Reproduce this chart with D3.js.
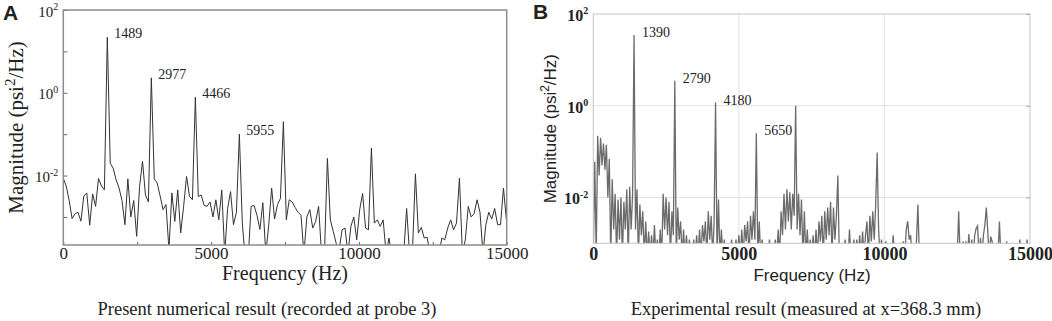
<!DOCTYPE html>
<html><head><meta charset="utf-8">
<script src="https://cdn.jsdelivr.net/npm/d3@7"></script>
<style>body{margin:0;background:#fff}svg{display:block}</style>
</head><body>
<svg id="c" width="1052" height="321"></svg>
<script>
// ---------- DATA ----------
const FREQ_STEP_A = 99.27; // Hz between samples, panel A
const magnitudeA = [
0.0085,0.0056,0.0025,0.00091,0.0012,0.0013,0.00079,0.0032,0.0038,0.00063,
0.0036,0.0018,0.0085,0.0056,0.0045,21.9,0.020,0.015,0.0079,0.0050,
0.0025,0.00065,0.0083,0.0010,0.0025,0.00034,0.0055,0.022,0.0034,0.0023,
2.29,0.0083,0.0066,0.0032,0.0015,0.0020,0.00016,0.0038,0.00078,0.0045,
0.00041,0.0018,0.0095,0.0032,0.0026,0.78,0.0031,0.0034,0.0019,0.0018,
0.0023,0.0010,0.0026,0.00085,0.0045,0.00013,0.0016,0.0041,0.00065,0.0013,
0.10,0.00071,0.0001,0.0001,0.0018,0.0019,0.0011,0.0005,0.0022,0.00013,
0.00063,0.0050,0.00089,0.0020,0.0028,0.20,0.00085,0.0026,0.0023,0.0017,
0.0013,0.0011,0.00013,0.0010,0.0015,0.00054,0.00078,0.0018,0.00013,0.00013,
0.026,0.00085,0.00045,0.00023,0.00016,0.00049,0.00054,0.00013,0.00059,0.0010,
0.00028,0.0015,0.0037,0.00054,0.00049,0.046,0.00071,0.00085,0.00059,0.00085,
0.00013,0.00031,0.0001,0.0001,0.0001,0.0001,0.00013,0.0016,0.00013,0.00016,
0.011,0.00041,0.00056,0.00031,0.00032,0.00013,0.00018,0.00013,0.00013,0.00031,
0.00028,0.00054,0.00085,0.00049,0.00071,0.0087,0.00013,0.00028,0.0018,0.0010,
0.0012,0.0026,0.0013,0.00013,0.00065,0.0013,0.00089,0.0016,0.00065,0.00065,
0.0050,0.00085
];
const peakIndexA = [15, 30, 45, 60];
const peakLabelA = ["1489", "2977", "4466", "5955"];

const FREQ_STEP_B = 50; // Hz between samples, panel B
const magnitudeB = [
5e-4,0.06,5e-4,0.22,0.03,0.2,0.05,0.15,0.04,0.14,
0.01,0.07,5e-4,0.025,0.002,0.012,5e-4,0.009,0.0012,0.01,
5e-4,0.008,0.002,0.015,5e-4,0.017,0.002,0.012,35,0.002,
0.015,5e-4,0.007,0.0015,0.005,5e-4,0.003,5e-4,0.0018,5e-4,
0.0015,5e-4,0.0025,5e-4,0.0012,5e-4,0.002,5e-4,0.012,0.002,
0.01,0.0015,0.008,5e-4,0.005,0.0015,3.5,5e-4,0.006,0.0012,
0.003,5e-4,0.002,5e-4,0.0015,5e-4,0.0012,5e-4,5e-4,0.0012,
5e-4,0.0015,5e-4,0.002,5e-4,0.0025,0.0011,0.003,5e-4,0.005,
0.0012,0.004,5e-4,0.003,1.17,5e-4,0.009,5e-4,0.002,5e-4,
0.0012,5e-4,0.001,5e-4,5e-4,0.0012,5e-4,5e-4,0.0012,5e-4,
0.0015,5e-4,0.002,5e-4,0.0025,0.0011,0.003,5e-4,0.004,0.0012,
0.005,0.0012,0.25,5e-4,0.003,5e-4,0.0012,5e-4,0.001,5e-4,
5e-4,0.0012,5e-4,0.001,5e-4,0.0012,5e-4,0.002,5e-4,0.005,
0.0015,0.012,0.002,0.015,0.003,0.013,0.002,0.012,0.004,1.0,
0.002,0.012,0.0015,0.009,5e-4,0.005,5e-4,0.002,5e-4,0.0012,
5e-4,0.0015,5e-4,0.002,5e-4,0.003,0.0011,0.004,5e-4,0.005,
0.0012,0.006,0.0015,0.008,5e-4,0.006,0.0012,0.004,0.03,5e-4,
5e-4,0.001,5e-4,0.0012,5e-4,5e-4,0.002,5e-4,5e-4,0.0012,
5e-4,0.0012,5e-4,0.0015,5e-4,0.0018,5e-4,0.0015,0.003,5e-4,
0.004,0.0011,0.005,0.0012,0.007,0.095,0.002,5e-4,0.0012,5e-4,
5e-4,0.0011,5e-4,5e-4,5e-4,5e-4,0.0015,5e-4,5e-4,5e-4,
5e-4,5e-4,5e-4,0.0011,5e-4,0.002,0.003,0.0012,0.0015,5e-4,
5e-4,5e-4,0.0011,0.007,5e-4,5e-4,5e-4,5e-4,5e-4,5e-4,
5e-4,5e-4,5e-4,5e-4,5e-4,5e-4,5e-4,5e-4,5e-4,5e-4,
5e-4,5e-4,5e-4,5e-4,5e-4,5e-4,5e-4,5e-4,5e-4,5e-4,
5e-4,0.005,5e-4,5e-4,0.0011,5e-4,0.0011,5e-4,0.0016,5e-4,
0.0012,5e-4,0.0015,0.0021,0.0024,5e-4,0.0013,5e-4,0.0015,0.0025,
0.006,0.0018,5e-4,0.0014,0.0011,5e-4,5e-4,5e-4,5e-4,0.003,
5e-4,5e-4,5e-4,5e-4,0.0011,5e-4,5e-4,5e-4,5e-4,5e-4,
5e-4,5e-4,5e-4,0.0012,5e-4,5e-4,5e-4,5e-4,0.0012,5e-4,
5e-4
];
const peakIndexB = [28, 56, 84, 112];
const peakLabelB = ["1390", "2790", "4180", "5650"];

const xTickValues = [0, 5000, 10000, 15000];
const yTickLabelValues = [100, 1, 0.01];
const yMinorTickValuesA = [100, 10, 1, 0.1, 0.01, 0.001];
const xMinorTickValuesA = [0, 2500, 5000, 7500, 10000, 12500, 15000];

// ---------- DRAW ----------
const svg = d3.select("#c");
const serif = "'Liberation Serif','Times New Roman',serif";
const sans = "'Liberation Sans',Arial,sans-serif";

function supLabels(g, size, supSize) {
  g.selectAll(".tick text").each(function(d) {
    const t = d3.select(this);
    t.text(null);
    t.append("tspan").text("10");
    t.append("tspan").attr("dy", -size * 0.42).attr("font-size", supSize)
      .text(String(Math.round(Math.log10(d))));
  });
}

// ===== Panel A =====
const xA = d3.scaleLinear().domain([0, 15000]).range([63.3, 506.7]);
const yA = d3.scaleLog().domain([2.1e-4, 100]).range([245, 10]);

svg.append("clipPath").attr("id", "clipA").append("rect")
  .attr("x", xA(0)).attr("y", yA(100)).attr("width", xA(15000) - xA(0)).attr("height", yA(2.1e-4) - yA(100));

svg.append("path").datum(magnitudeA)
  .attr("clip-path", "url(#clipA)")
  .attr("fill", "none").attr("stroke", "#333").attr("stroke-width", 1)
  .attr("d", d3.line().x((d, i) => xA(i * FREQ_STEP_A)).y(d => yA(d)));

const minA = svg.append("g").attr("transform", `translate(${xA(0)},0)`)
  .call(d3.axisLeft(yA).tickValues(yMinorTickValuesA).tickSize(-4).tickFormat(""));
minA.select(".domain").remove();
minA.selectAll("line").attr("stroke", "#666");
const minAx = svg.append("g").attr("transform", `translate(0,${yA(2.1e-4)})`)
  .call(d3.axisBottom(xA).tickValues(xMinorTickValuesA).tickSize(-3).tickFormat(""));
minAx.select(".domain").remove();
minAx.selectAll("line").attr("stroke", "#666");

svg.append("rect").attr("x", xA(0)).attr("y", yA(100))
  .attr("width", xA(15000) - xA(0)).attr("height", yA(2.1e-4) - yA(100))
  .attr("fill", "none").attr("stroke", "#8c8c8c").attr("stroke-width", 1.5);

const yAxA = svg.append("g").attr("transform", `translate(${xA(0)},0)`)
  .call(d3.axisLeft(yA).tickValues(yTickLabelValues).tickSize(0).tickPadding(5));
yAxA.select(".domain").remove();
yAxA.selectAll("text").attr("font-family", serif).attr("font-size", 15).attr("fill", "#222").attr("dy", "0.4em");
supLabels(yAxA, 15, 10);

const xAxA = svg.append("g").attr("transform", `translate(0,${yA(2.1e-4)})`)
  .call(d3.axisBottom(xA).tickValues(xTickValues).tickSize(0).tickPadding(2).tickFormat(d3.format("d")));
xAxA.select(".domain").remove();
xAxA.selectAll("text").attr("font-family", serif).attr("font-size", 17).attr("fill", "#222");

svg.append("g").selectAll("text").data(peakIndexA).join("text")
  .attr("x", k => xA(k * FREQ_STEP_A) + 7)
  .attr("y", k => yA(magnitudeA[k]) + 1)
  .attr("font-family", serif).attr("font-size", 14).attr("fill", "#222")
  .text((k, i) => peakLabelA[i]);

const ylabA = svg.append("text")
  .attr("transform", `translate(23,${(yA(100) + yA(2.1e-4)) / 2}) rotate(-90)`)
  .attr("text-anchor", "middle").attr("font-family", serif).attr("font-size", 21).attr("fill", "#222");
ylabA.append("tspan").text("Magnitude (psi");
ylabA.append("tspan").attr("dy", -8).attr("font-size", 15).text("2");
ylabA.append("tspan").attr("dy", 8).text("/Hz)");

svg.append("text").attr("x", 285).attr("y", 280).attr("text-anchor", "middle")
  .attr("font-family", serif).attr("font-size", 20).attr("fill", "#222").text("Frequency (Hz)");
svg.append("text").attr("x", 267).attr("y", 315).attr("text-anchor", "middle")
  .attr("font-family", serif).attr("font-size", 18.5).attr("fill", "#222")
  .text("Present numerical result (recorded at probe 3)");
svg.append("text").attr("x", 3).attr("y", 20).attr("font-family", sans).attr("font-weight", "bold")
  .attr("font-size", 21).attr("fill", "#222").text("A");

// ===== Panel B =====
const xB = d3.scaleLinear().domain([0, 15000]).range([593.3, 1030]);
const yB = d3.scaleLog().domain([1e-3, 100]).range([243.3, 14]);

svg.append("g").selectAll("line").data([5000, 10000]).join("line")
  .attr("x1", d => xB(d)).attr("x2", d => xB(d)).attr("y1", yB(100)).attr("y2", yB(1e-3))
  .attr("stroke", "#e2e2e2").attr("stroke-width", 1);
svg.append("g").selectAll("line").data([1, 0.01]).join("line")
  .attr("x1", xB(0)).attr("x2", xB(15000)).attr("y1", d => yB(d)).attr("y2", d => yB(d))
  .attr("stroke", "#e2e2e2").attr("stroke-width", 1);

svg.append("clipPath").attr("id", "clipB").append("rect")
  .attr("x", xB(0)).attr("y", yB(100)).attr("width", xB(15000) - xB(0)).attr("height", yB(1e-3) - yB(100));

svg.append("path").datum(magnitudeB)
  .attr("clip-path", "url(#clipB)")
  .attr("fill", "none").attr("stroke", "#6b6b6b").attr("stroke-width", 1.3)
  .attr("d", d3.line().x((d, i) => xB(i * FREQ_STEP_B)).y(d => yB(d)));

svg.append("rect").attr("x", xB(0)).attr("y", yB(100))
  .attr("width", xB(15000) - xB(0)).attr("height", yB(1e-3) - yB(100))
  .attr("fill", "none").attr("stroke", "#c4c4c4").attr("stroke-width", 1);

const rtB = svg.append("g").attr("transform", `translate(${xB(15000)},0)`)
  .call(d3.axisRight(yB).tickValues(yTickLabelValues).tickSize(-4).tickFormat(""));
rtB.select(".domain").remove();
rtB.selectAll("line").attr("stroke", "#aaa");

const yAxB = svg.append("g").attr("transform", `translate(${xB(0)},0)`)
  .call(d3.axisLeft(yB).tickValues(yTickLabelValues).tickSize(0).tickPadding(5));
yAxB.select(".domain").remove();
yAxB.selectAll("text").attr("font-family", serif).attr("font-size", 16).attr("font-weight", "bold").attr("fill", "#222").attr("dy", "0.4em");
supLabels(yAxB, 16, 10);

const xAxB = svg.append("g").attr("transform", `translate(0,${yB(1e-3)})`)
  .call(d3.axisBottom(xB).tickValues(xTickValues).tickSize(0).tickPadding(4).tickFormat(d3.format("d")));
xAxB.select(".domain").remove();
xAxB.selectAll("text").attr("font-family", serif).attr("font-size", 18).attr("font-weight", "bold").attr("fill", "#222");

svg.append("g").selectAll("text").data(peakIndexB).join("text")
  .attr("x", k => xB(k * FREQ_STEP_B) + 8)
  .attr("y", k => yB(magnitudeB[k]) + 2)
  .attr("font-family", serif).attr("font-size", 14).attr("fill", "#222")
  .text((k, i) => peakLabelB[i]);

const ylabB = svg.append("text")
  .attr("transform", `translate(556,${(yB(100) + yB(1e-3)) / 2}) rotate(-90)`)
  .attr("text-anchor", "middle").attr("font-family", sans).attr("font-size", 17).attr("fill", "#222");
ylabB.append("tspan").text("Magnitude (psi");
ylabB.append("tspan").attr("dy", -7).attr("font-size", 12).text("2");
ylabB.append("tspan").attr("dy", 7).text("/Hz)");

svg.append("text").attr("x", 812).attr("y", 281).attr("text-anchor", "middle")
  .attr("font-family", sans).attr("font-size", 17).attr("fill", "#222").text("Frequency (Hz)");
svg.append("text").attr("x", 806).attr("y", 315).attr("text-anchor", "middle")
  .attr("font-family", serif).attr("font-size", 18.5).attr("fill", "#222")
  .text("Experimental result (measured at x=368.3 mm)");
svg.append("text").attr("x", 533).attr("y", 19).attr("font-family", sans).attr("font-weight", "bold")
  .attr("font-size", 21).attr("fill", "#222").text("B");
</script>
</body></html>
